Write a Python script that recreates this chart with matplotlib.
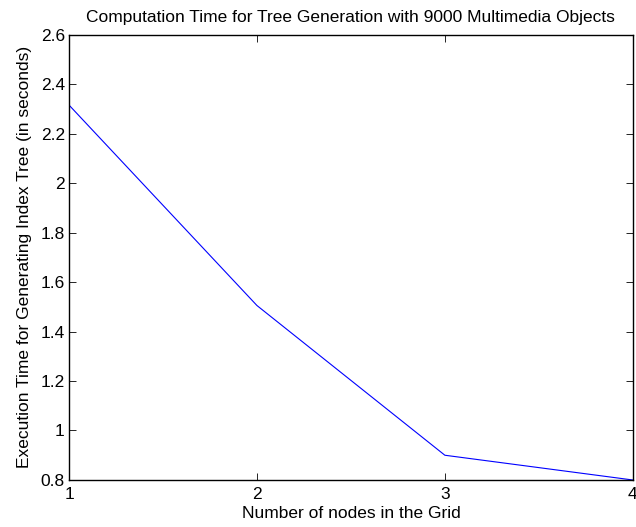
import matplotlib
matplotlib.use("Agg")
import matplotlib.pyplot as plt

nodes = [1, 2, 3, 4]
exec_time = [2.315, 1.505, 0.90, 0.80]
xticks = [1, 2, 3, 4]
yticks = [0.8, 1.0, 1.2, 1.4, 1.6, 1.8, 2.0, 2.2, 2.4, 2.6]
ytick_labels = ["0.8", "1", "1.2", "1.4", "1.6", "1.8", "2", "2.2", "2.4", "2.6"]

plt.rcParams['font.family'] = ['Liberation Sans', 'DejaVu Sans']
fig = plt.figure(figsize=(6.36, 5.27), dpi=100)
ax = fig.add_axes([0.1085, 0.0892, 0.8865, 0.8453])
ax.plot(nodes, exec_time, color=(0, 0, 1), linewidth=0.8)
ax.set_xlim(1, 4)
ax.set_ylim(0.8, 2.6)
ax.set_xticks(xticks)
ax.set_xticklabels([str(t) for t in xticks])
ax.set_yticks(yticks)
ax.set_yticklabels(ytick_labels)
ax.tick_params(direction='in', top=True, right=True, length=5, width=0.6,
               labelsize=12.5)
ax.tick_params(axis='x', pad=5)
ax.tick_params(axis='y', pad=3)
for s in ax.spines.values():
    s.set_linewidth(1.0)
ax.set_title("Computation Time for Tree Generation with 9000 Multimedia Objects",
             fontsize=12.5, pad=9)
ax.set_xlabel("Number of nodes in the Grid", fontsize=12.5, labelpad=3)
ax.set_ylabel("Execution Time for Generating Index Tree (in seconds)", fontsize=12.5, labelpad=6)
fig.savefig("out.png", dpi=100)
